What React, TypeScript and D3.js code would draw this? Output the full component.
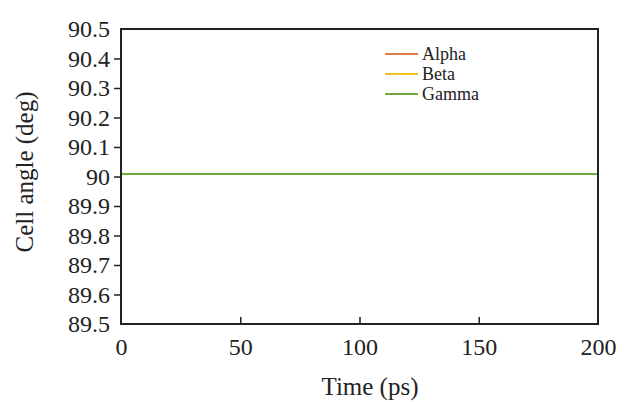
import React, { useEffect, useRef } from 'react'
import * as d3 from 'd3'

const width = 631
const height = 402
const margin = { top: 29, right: 33, bottom: 78, left: 121 }

const times = [0, 20, 40, 60, 80, 100, 120, 140, 160, 180, 200]
const alpha = [90.01, 90.01, 90.01, 90.01, 90.01, 90.01, 90.01, 90.01, 90.01, 90.01, 90.01]
const beta = [90.01, 90.01, 90.01, 90.01, 90.01, 90.01, 90.01, 90.01, 90.01, 90.01, 90.01]
const gamma = [90.01, 90.01, 90.01, 90.01, 90.01, 90.01, 90.01, 90.01, 90.01, 90.01, 90.01]
const seriesNames = ['Alpha', 'Beta', 'Gamma']
const seriesColors = ['#DE7E40', '#F0C020', '#74A83A']
const xTicks = [0, 50, 100, 150, 200]
const yTicks = [89.5, 89.6, 89.7, 89.8, 89.9, 90, 90.1, 90.2, 90.3, 90.4, 90.5]

const font = "'Liberation Serif', 'Times New Roman', Times, serif"

function App() {
  const svgRef = useRef<SVGSVGElement>(null)

  useEffect(() => {
    const svg = d3.select(svgRef.current)
    svg.selectAll('*').remove()

    const x = d3.scaleLinear().domain([0, 200]).range([margin.left, width - margin.right])
    const y = d3.scaleLinear().domain([89.5, 90.5]).range([height - margin.bottom, margin.top])

    // y axis: ticks outward, labels at every tick
    const yAxis = d3.axisLeft(y).tickValues(yTicks).tickSize(7).tickPadding(4)
      .tickFormat(d => d3.format('')(+(+d).toFixed(1)))
    const gy = svg.append('g').attr('transform', `translate(${margin.left},0)`).call(yAxis)
    gy.select('.domain').remove()
    gy.selectAll('.tick line').attr('stroke', '#222').attr('stroke-width', 1.5)
      .filter(d => d === 89.5 || d === 90.5).remove()
    gy.selectAll('.tick text').style('font-family', font).attr('font-size', 24).attr('fill', '#222')

    // x axis: ticks inward
    const xAxis = d3.axisBottom(x).tickValues(xTicks).tickSize(-7).tickPadding(14)
    const gx = svg.append('g').attr('transform', `translate(0,${height - margin.bottom})`).call(xAxis)
    gx.select('.domain').remove()
    gx.selectAll('.tick line').attr('stroke', '#222').attr('stroke-width', 1.5)
      .filter(d => d === 0 || d === 200).remove()
    gx.selectAll('.tick text').style('font-family', font).attr('font-size', 24).attr('fill', '#222')

    // lines
    const line = d3.line<number>().x((d, i) => x(times[i])).y(d => Math.round(y(d)))
    ;[alpha, beta, gamma].forEach((s, i) => {
      svg.append('path').attr('d', line(s)).attr('fill', 'none')
        .attr('stroke', seriesColors[i]).attr('stroke-width', 2)
    })

    // frame
    svg.append('rect')
      .attr('x', margin.left).attr('y', margin.top)
      .attr('width', width - margin.left - margin.right)
      .attr('height', height - margin.top - margin.bottom)
      .attr('fill', 'none').attr('stroke', '#222').attr('stroke-width', 2)

    // legend
    const lg = svg.append('g').attr('transform', 'translate(385,54)')
    seriesNames.forEach((name, i) => {
      lg.append('line').attr('x1', 0).attr('x2', 33).attr('y1', i * 20).attr('y2', i * 20)
        .attr('stroke', seriesColors[i]).attr('stroke-width', 2)
      lg.append('text').attr('x', 37).attr('y', i * 20).attr('dy', '0.35em')
        .style('font-family', font).attr('font-size', 18).attr('fill', '#222').text(name)
    })

    // axis titles
    svg.append('text').attr('x', 370).attr('y', 395)
      .attr('text-anchor', 'middle').style('font-family', font).attr('font-size', 25).attr('fill', '#222')
      .text('Time (ps)')
    svg.append('text').attr('transform', `translate(33,172) rotate(-90)`)
      .attr('text-anchor', 'middle').style('font-family', font).attr('font-size', 25).attr('fill', '#222')
      .text('Cell angle (deg)')
  }, [])

  return (
    <svg ref={svgRef} width={width} height={height}
      style={{ position: 'absolute', left: 0, top: 0, background: '#fff' }} />
  )
}

export default App
